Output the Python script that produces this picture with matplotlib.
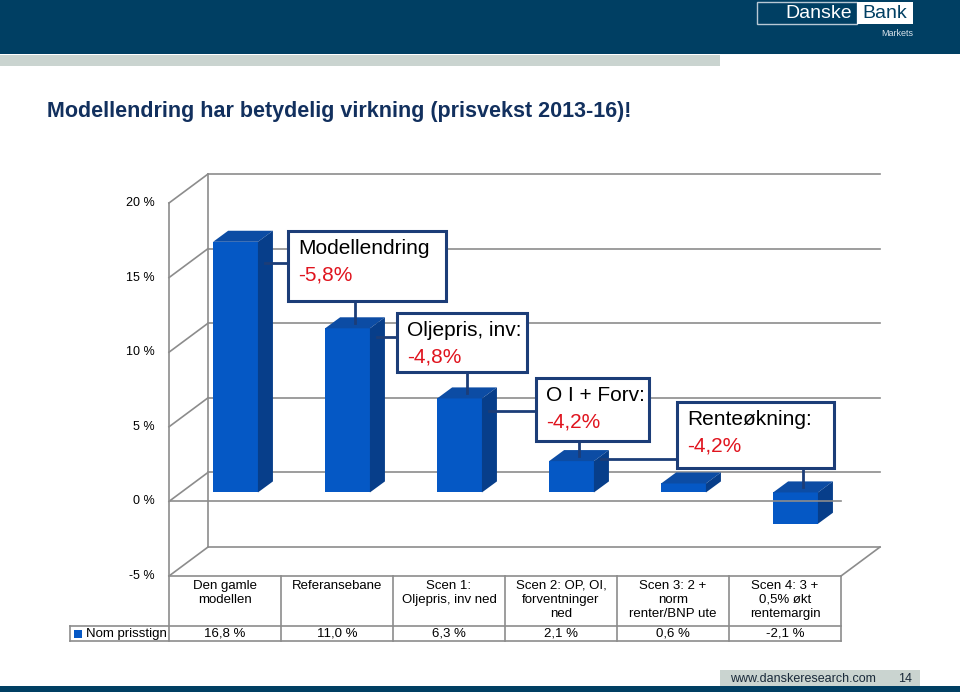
import matplotlib
matplotlib.use("Agg")
import matplotlib.pyplot as plt
from matplotlib.patches import Rectangle, Polygon

plt.rcParams['font.family'] = ['Liberation Sans', 'DejaVu Sans']

# data
categories = ["Den gamle\nmodellen", "Referansebane", "Scen 1:\nOljepris, inv ned",
              "Scen 2: OP, OI,\nforventninger\nned", "Scen 3: 2 +\nnorm\nrenter/BNP ute",
              "Scen 4: 3 +\n0,5% økt\nrentemargin"]
values = [16.8, 11.0, 6.3, 2.1, 0.6, -2.1]
value_labels = ["16,8 %", "11,0 %", "6,3 %", "2,1 %", "0,6 %", "-2,1 %"]
series_name = "Nom prisstign"
yticks = [-5, 0, 5, 10, 15, 20]
ytick_labels = ["-5 %", "0 %", "5 %", "10 %", "15 %", "20 %"]

callout_titles = ["Modellendring", "Oljepris, inv:", "O I + Forv:", "Renteøkning:"]
callout_changes = ["-5,8%", "-4,8%", "-4,2%", "-4,2%"]
callout_from = [0, 1, 2, 3]     # bar the side leader starts from
callout_to = [1, 2, 3, 5]       # bar the vertical leader goes down to

# colours
NAVY = "#003F63"
BAND = "#CAD4D0"
TITLE_C = "#12305E"
GRID = "#8C8C8C"
FRONT = "#0558C5"
SIDE = "#073E8A"
TOP = "#0C4CA4"
BOXC = "#1C3D78"
RED = "#E0141E"

fig = plt.figure(figsize=(9.6, 6.92), dpi=100)

# background / slide decorations in pixel coords
bg = fig.add_axes([0, 0, 1, 1])
bg.set_xlim(0, 960)
bg.set_ylim(692, 0)
bg.axis("off")
bg.add_patch(Rectangle((0, 0), 960, 54, color=NAVY, lw=0))
bg.add_patch(Rectangle((0, 55), 720, 11, color=BAND, lw=0))
bg.add_patch(Rectangle((757, 2), 100, 22, fill=False, ec="#B8C8D4", lw=1))
bg.text(852, 13.5, "Danske", color="white", fontsize=14, ha="right", va="center")
bg.add_patch(Rectangle((857, 2), 56, 22, color="white", lw=0))
bg.text(885, 13.5, "Bank", color=NAVY, fontsize=14, ha="center", va="center")
bg.text(913, 34, "Markets", color="#D8E2EA", fontsize=6.5, ha="right", va="center")
bg.text(47, 112, "Modellendring har betydelig virkning (prisvekst 2013-16)!",
        color=TITLE_C, fontsize=15.5, fontweight="bold", ha="left", va="center")
bg.add_patch(Rectangle((0, 686), 960, 6, color=NAVY, lw=0))
bg.add_patch(Rectangle((720, 670), 200, 16, color=BAND, lw=0))
bg.text(730, 679, "www.danskeresearch.com", fontsize=9, color="#1A2A3A", va="center")
bg.text(905, 679, "14", fontsize=9, color="#1A2A3A", va="center", ha="center")

# chart axes: front plane x -0.5..5.5 -> px 169..841, y -5..20 -> px 576..203
PXX = 112.0
PXY = 14.92
x0, x1 = -0.5, 5.85
y0, y1 = -5, 22.5
ax = fig.add_axes([169 / 960, 1 - 576 / 692, (x1 - x0) * PXX / 960, (y1 - y0) * PXY / 692])
ax.set_xlim(x0, x1)
ax.set_ylim(y0, y1)
ax.axis("off")

DX, DY = 0.348, 1.94      # wall depth
BSX, BSY = 0.094, 0.6     # bar front-face shift
BDX, BDY = 0.134, 0.74    # bar depth
W = 0.40

gkw = dict(color=GRID, lw=1.2, zorder=1, clip_on=False)
for v in yticks:
    ax.plot([-0.5 + DX, 5.5 + DX], [v + DY, v + DY], **gkw)
    ax.plot([-0.5, -0.5 + DX], [v, v + DY], **gkw)
    ax.text(-0.625, v, ytick_labels[yticks.index(v)], ha="right", va="center", fontsize=9)
ax.plot([-0.5 + DX, -0.5 + DX], [-5 + DY, 20 + DY], **gkw)
ax.plot([5.5, 5.5 + DX], [-5, -5 + DY], **gkw)
ax.plot([-0.5, 5.5], [0, 0], color=GRID, lw=1.2, zorder=4)

# bars
pos = [i + BSX for i in range(len(values))]
ax.bar(pos, values, width=W, bottom=BSY, color=FRONT, lw=0, zorder=3)
for p, v in zip(pos, values):
    lo = BSY + min(v, 0)
    hi = BSY + max(v, 0)
    xl, xr = p - W / 2, p + W / 2
    ax.add_patch(Polygon([(xl, hi), (xr, hi), (xr + BDX, hi + BDY), (xl + BDX, hi + BDY)],
                         closed=True, color=TOP, lw=0, zorder=3))
    ax.add_patch(Polygon([(xr, lo), (xr, hi), (xr + BDX, hi + BDY), (xr + BDX, lo + BDY)],
                         closed=True, color=SIDE, lw=0, zorder=3))

# callouts (box: left, bottom, width, height; leader y)
boxes = [(0.5625, 13.43, 1.411, 4.69), (1.536, 8.67, 1.16, 3.96),
         (2.777, 4.05, 1.009, 4.22), (4.036, 2.24, 1.40, 4.42)]
leader_y = [15.98, 11.02, 6.06, 2.84]
for k in range(len(callout_titles)):
    bx, by, bw, bh = boxes[k]
    ax.add_patch(Rectangle((bx, by), bw, bh, fc="white", ec=BOXC, lw=2.2, zorder=6))
    ax.text(bx + 0.09, by + bh - 1.17, callout_titles[k], fontsize=15, va="center", zorder=7)
    ax.text(bx + 0.09, by + bh - 2.95, callout_changes[k], fontsize=15, va="center",
            color=RED, zorder=7)
    i = callout_from[k]
    sx = pos[i] + W / 2 + BDX / 2
    ax.plot([sx, bx], [leader_y[k], leader_y[k]], color=BOXC, lw=2, zorder=5)
    j = callout_to[k]
    tx = pos[j] + BDX / 2
    ty = BSY + max(values[j], 0) + BDY / 2
    ax.plot([tx, tx], [by, ty], color=BOXC, lw=2, zorder=5)

# data table
r1 = -5 - 50 / PXY
r2 = -5 - 65 / PXY
left = -0.5 - 99 / PXX
tkw = dict(color=GRID, lw=1.2, clip_on=False, zorder=1)
ax.plot([-0.5, -0.5], [r2, 20], **tkw)
ax.plot([-0.5, 5.5], [-5, -5], **tkw)
ax.plot([left, 5.5], [r1, r1], **tkw)
ax.plot([left, 5.5], [r2, r2], **tkw)
ax.plot([left, left], [r1, r2], **tkw)
for c in range(1, len(categories) + 1):
    ax.plot([c - 0.5, c - 0.5], [-5, r2], **tkw)
for c, (cat, lab) in enumerate(zip(categories, value_labels)):
    ax.text(c, -5 - 4 / PXY, cat, ha="center", va="top", fontsize=9.5,
            linespacing=1.2, clip_on=False)
    ax.text(c, (r1 + r2) / 2, lab, ha="center", va="center", fontsize=9.5, clip_on=False)
ax.text(left + 16 / PXX, (r1 + r2) / 2, series_name, ha="left", va="center",
        fontsize=9.5, clip_on=False)
ax.add_patch(Rectangle((left + 4 / PXX, (r1 + r2) / 2 - 4 / PXY), 8 / PXX, 8 / PXY,
                       color=FRONT, lw=0, clip_on=False))

fig.savefig("out.png", dpi=100)
